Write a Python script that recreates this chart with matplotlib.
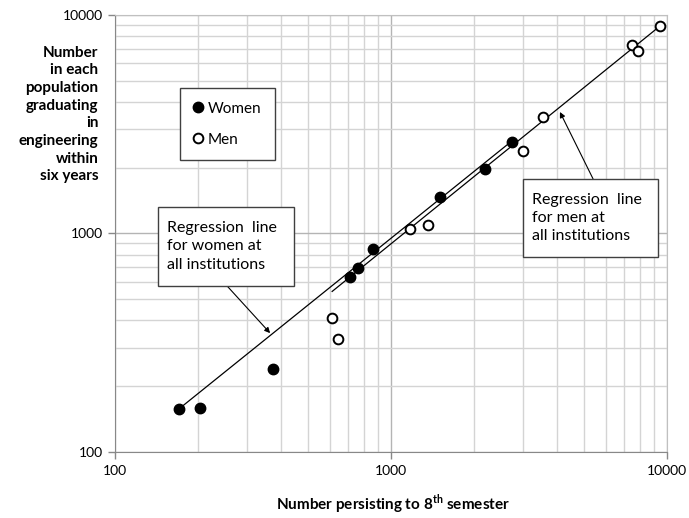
import numpy as np
import matplotlib.pyplot as plt
from matplotlib.patches import Rectangle
from matplotlib.ticker import LogLocator, NullFormatter, FixedLocator

plt.rcParams['font.family'] = ['Lato', 'DejaVu Sans']
plt.rcParams['mathtext.fontset'] = 'custom'
plt.rcParams['mathtext.bf'] = 'Lato:bold'
plt.rcParams['mathtext.rm'] = 'Lato'

# persisting to 8th semester (x) vs graduating in engineering within six years (y)
women_x = [170, 204, 375, 711, 760, 861, 1503, 2183, 2735]
women_y = [157, 159, 240, 630, 692, 845, 1476, 1982, 2630]
men_x = [612, 644, 1172, 1361, 3020, 3540, 7480, 7850, 9440]
men_y = [409, 328, 1043, 1099, 2393, 3420, 7300, 6860, 8910]

# regression lines (all institutions), end points
women_fit_x = [170, 2690]
women_fit_y = [157, 2600]
men_fit_x = [612, 9440]
men_fit_y = [543, 8910]

x_ticks = [100, 1000, 10000]
y_ticks = [100, 1000, 10000]

fig = plt.figure(figsize=(6.89, 5.18), dpi=100)
ax = fig.add_axes([0.1669, 0.1274, 0.8012, 0.8437])
ax.set_xscale('log')
ax.set_yscale('log')
ax.set_xlim(100, 10000)
ax.set_ylim(100, 10000)

# grid
ax.xaxis.set_major_locator(FixedLocator(x_ticks))
ax.yaxis.set_major_locator(FixedLocator(y_ticks))
ax.xaxis.set_minor_locator(LogLocator(base=10, subs=np.arange(2, 10)))
ax.yaxis.set_minor_locator(LogLocator(base=10, subs=np.arange(2, 10)))
ax.xaxis.set_minor_formatter(NullFormatter())
ax.yaxis.set_minor_formatter(NullFormatter())
ax.set_xticklabels([str(t) for t in x_ticks])
ax.set_yticklabels([str(t) for t in y_ticks])
ax.grid(which='major', color='#b4b4b4', lw=1.0)
ax.grid(which='minor', color='#d4d4d4', lw=1.0)
ax.set_axisbelow(True)
ax.tick_params(which='minor', length=0)
ax.tick_params(which='major', length=5, width=1, color='#888888', labelsize=10, pad=4)
for s in ax.spines.values():
    s.set_color('#c0c0c0')
ax.spines['left'].set_color('#888888')
ax.spines['bottom'].set_color('#888888')

ax.plot(women_fit_x, women_fit_y, color='black', lw=0.9, zorder=3)
ax.plot(men_fit_x, men_fit_y, color='black', lw=0.9, zorder=3)

ax.plot(women_x, women_y, 'o', color='black', ms=7.5, label='Women', zorder=4)
ax.plot(men_x, men_y, 'o', mfc='white', mec='black', mew=1.4, ms=7, label='Men', zorder=4)

leg = ax.legend(loc='upper left', bbox_to_anchor=(0.118, 0.833), fancybox=False,
                edgecolor='#404040', framealpha=1, fontsize=11, handlelength=0.6,
                handletextpad=0.3, labelspacing=1.1, borderpad=0.9, borderaxespad=0)
leg.get_frame().set_linewidth(1.0)

# callout boxes
boxes = [
    ((0.078, 0.380), 0.246, 0.181, 'Regression  line\nfor women at\nall institutions',
     (0.203, 0.380), (0.281, 0.272)),
    ((0.739, 0.446), 0.245, 0.179, 'Regression  line\nfor men at\nall institutions',
     (0.866, 0.625), (0.806, 0.778)),
]
for (x0, y0), w, h, txt, start, tip in boxes:
    ax.add_patch(Rectangle((x0, y0), w, h, transform=ax.transAxes, fc='white',
                           ec='#404040', lw=1.0, zorder=5))
    ax.text(x0 + 0.017, y0 + h / 2, txt, transform=ax.transAxes, fontsize=11.5,
            va='center', ha='left', linespacing=1.38, zorder=6)
    ax.annotate('', xy=tip, xytext=start, xycoords='axes fraction',
                textcoords='axes fraction', zorder=3,
                arrowprops=dict(arrowstyle='-|>', color='black', lw=0.8,
                                mutation_scale=8, shrinkA=0, shrinkB=0))

fig.text(0.143, 0.779, 'Number\nin each\npopulation\ngraduating\nin\nengineering\nwithin\nsix years',
         ha='right', va='center', fontsize=11, fontweight='bold', linespacing=1.33)
fig.text(0.57, 0.027, 'Number persisting to 8$^{\\mathbf{th}}$ semester', ha='center',
         va='center', fontsize=11, fontweight='bold')

fig.savefig('out.png', dpi=100)
